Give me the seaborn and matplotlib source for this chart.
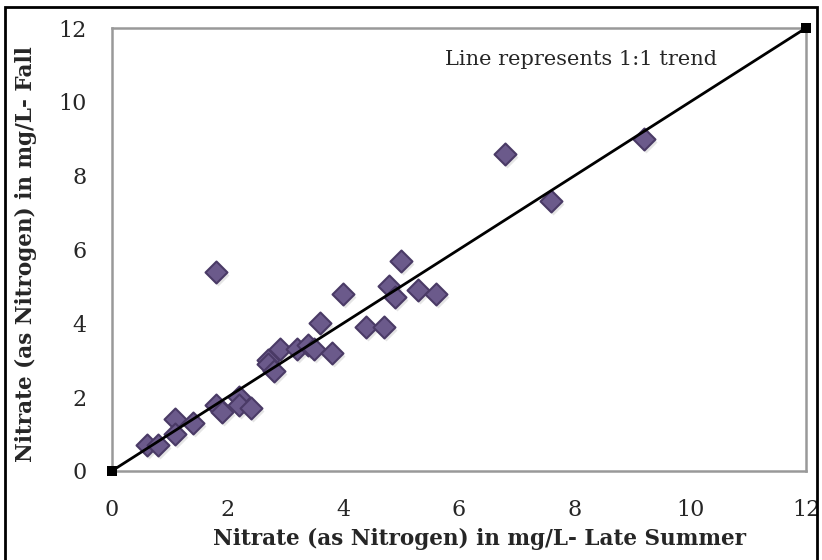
import matplotlib
matplotlib.use("Agg")
import matplotlib.pyplot as plt
import seaborn as sns
import pandas as pd
from matplotlib.patches import Rectangle

# Data
late_summer = [0.6, 0.8, 1.1, 1.1, 1.4, 1.8, 1.9, 2.2, 2.2, 2.4, 1.8, 2.7, 2.7, 2.8,
               2.9, 3.2, 3.4, 3.5, 3.8, 3.6, 4.0, 4.4, 4.7, 4.8, 4.9, 5.0, 5.3, 5.6,
               6.8, 7.6, 9.2]
fall = [0.7, 0.7, 1.4, 1.0, 1.3, 1.8, 1.6, 2.0, 1.8, 1.7, 5.4, 3.0, 2.9, 2.7,
        3.3, 3.3, 3.4, 3.3, 3.2, 4.0, 4.8, 3.9, 3.9, 5.0, 4.7, 5.7, 4.9, 4.8,
        8.6, 7.3, 9.0]
trend_x = [0, 12]
trend_y = [0, 12]
ticks = [0, 2, 4, 6, 8, 10, 12]

df = pd.DataFrame({"summer": late_summer, "fall": fall})
trend = pd.DataFrame({"x": trend_x, "y": trend_y})

sns.set_style("white")
plt.rcParams["font.family"] = ["DejaVu Serif"]

fig = plt.figure(figsize=(8.22, 5.6), dpi=100)
ax = fig.add_axes([0.136, 0.159, 0.8445, 0.791])

sns.lineplot(data=trend, x="x", y="y", ax=ax, color="black", linewidth=2,
             zorder=3)
ax.plot(trend_x, trend_y, linestyle="none", marker="s", markersize=7.5,
        color="black", markeredgewidth=0, zorder=4, clip_on=False)
# shadow
sns.scatterplot(data=df, x="summer", y="fall", ax=ax, marker="D", s=125,
                color="#000000", alpha=0.10, linewidth=0, zorder=1,
                transform=ax.transData + matplotlib.transforms.ScaledTranslation(2/100, -3/100, fig.dpi_scale_trans))
sns.scatterplot(data=df, x="summer", y="fall", ax=ax, marker="D", s=125,
                color="#6b5a8b", edgecolor="#4a3a66", linewidth=1.5, zorder=2)

ax.set_xlim(0, 12)
ax.set_ylim(0, 12)
ax.set_xticks(ticks)
ax.set_yticks(ticks)
ax.set_xticklabels([str(t) for t in ticks])
ax.set_yticklabels([str(t) for t in ticks])
ax.tick_params(axis="both", direction="out", length=6, width=1.5, color="#999999",
               labelsize=16, pad=12)
ax.tick_params(axis="x", pad=14)
for s in ax.spines.values():
    s.set_color("#999999")
    s.set_linewidth(1.8)

ax.set_xlabel("Nitrate (as Nitrogen) in mg/L- Late Summer", fontsize=15.5,
              fontweight="bold")
ax.set_ylabel("Nitrate (as Nitrogen) in mg/L- Fall", fontsize=15.5,
              fontweight="bold")
ax.xaxis.set_label_coords(0.53, -0.128)
ax.yaxis.set_label_coords(-0.108, 0.49)

ax.text(0.48, 0.93, "Line represents 1:1 trend", transform=ax.transAxes,
        fontsize=15, ha="left", va="center")

fig.patches.append(Rectangle((5/822, -0.02), 812/822, 1.02 - 7/560,
                             transform=fig.transFigure, fill=False,
                             edgecolor="black", linewidth=2))

fig.savefig("out.png", dpi=100)
